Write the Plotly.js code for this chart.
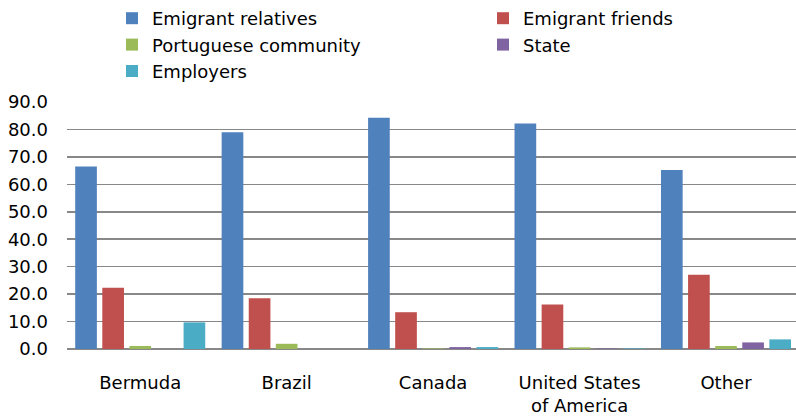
<!DOCTYPE html>
<html><head><meta charset="utf-8">
<script src="https://cdn.plot.ly/plotly-3.0.1.min.js"></script>
<style>html,body{margin:0;padding:0;background:#fff}#chart{width:796px;height:417px}</style>
</head><body><div id="chart"></div>
<script>
var categories = ['Bermuda', 'Brazil', 'Canada', 'United States<br>of America', 'Other'];
var emigrantRelatives = [66.5, 79.0, 84.3, 82.2, 65.2];
var emigrantFriends = [22.3, 18.5, 13.4, 16.2, 27.1];
var portugueseCommunity = [1.1, 1.9, 0.2, 0.6, 1.1];
var stateVals = [0, 0, 0.7, 0.2, 2.4];
var employers = [9.7, 0, 0.7, 0.2, 3.5];
var yTicks = [0, 10, 20, 30, 40, 50, 60, 70, 80, 90];

var seriesNames = ['Emigrant relatives', 'Emigrant friends', 'Portuguese community', 'State', 'Employers'];
var seriesData = [emigrantRelatives, emigrantFriends, portugueseCommunity, stateVals, employers];
var colors = ['#4F81BD', '#C0504D', '#9BBB59', '#8064A2', '#4BACC6'];

var traces = seriesData.map(function (vals, i) {
  return {
    type: 'bar', x: categories, y: vals, name: seriesNames[i],
    marker: {color: colors[i]}, hoverinfo: 'skip'
  };
});

var font = {family: 'DejaVu Sans', size: 18, color: '#000'};
var layout = {
  width: 796, height: 417,
  margin: {l: 67, r: 0, t: 101, b: 68, pad: 0},
  paper_bgcolor: '#fff', plot_bgcolor: '#fff',
  font: font,
  barmode: 'group', bargap: 0.075, bargroupgap: 0.2,
  showlegend: true,
  legend: {
    orientation: 'h', x: -0.0001, xanchor: 'left', y: 1.415, yanchor: 'top',
    indentation: 58,
    entrywidth: 268, entrywidthmode: 'pixels',
    font: {family: 'DejaVu Sans', size: 18, color: '#000'},
    bgcolor: 'rgba(0,0,0,0)', traceorder: 'normal'
  },
  xaxis: {
    type: 'category', range: [-0.5, 4.478],
    showgrid: false, showline: false, zeroline: false, ticks: '',
    ticklabelstandoff: 21, tickfont: font
  },
  yaxis: {
    range: [0, 90], tickvals: yTicks, tickformat: '.1f',
    showgrid: true, gridcolor: '#888888', gridwidth: 1.5,
    zeroline: true, zerolinecolor: '#888888', zerolinewidth: 1.5,
    showline: false, ticks: '', ticklabelstandoff: 18, tickfont: font
  }
};
Plotly.newPlot('chart', traces, layout, {displayModeBar: false, staticPlot: true});
</script></body></html>
